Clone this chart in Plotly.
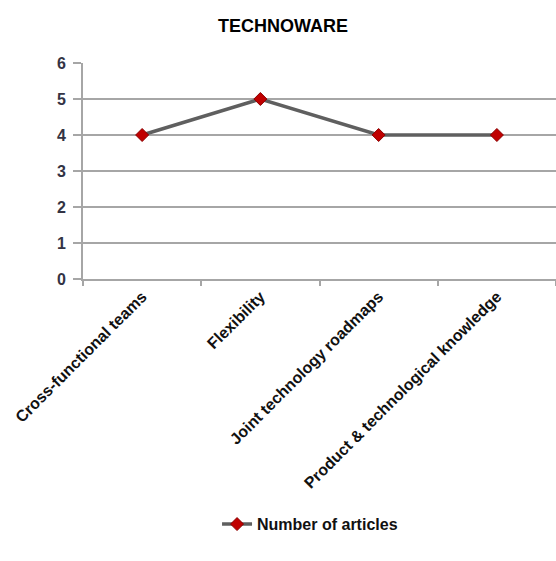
import plotly.graph_objects as go

categories = [
    "Cross-functional teams",
    "Flexibility",
    "Joint technology roadmaps",
    "Product & technological knowledge",
]
articles = [4, 5, 4, 4]
y_ticks = [0, 1, 2, 3, 4, 5, 6]

font_family = "Liberation Sans, Arial, sans-serif"
grid_color = "#a6a6a6"

fig = go.Figure()
fig.add_trace(go.Scatter(
    x=categories,
    y=articles,
    mode="lines+markers",
    name="Number of articles",
    line=dict(color="#5f5f5f", width=3.5),
    marker=dict(symbol="diamond", size=10, color="#c00000",
                line=dict(color="#8b0000", width=1)),
))

fig.update_layout(
    width=556,
    height=561,
    margin=dict(l=83, r=0, t=63, b=282),
    paper_bgcolor="white",
    plot_bgcolor="white",
    title=dict(
        text="TECHNOWARE",
        x=0.509, xanchor="center",
        y=0.954, yanchor="middle",
        font=dict(family=font_family, size=18, color="black", weight="bold"),
    ),
    font=dict(family=font_family, color="#111111"),
    showlegend=True,
    legend=dict(
        orientation="h",
        x=0.48, xanchor="center",
        y=-1.135, yanchor="middle",
        font=dict(family=font_family, size=16, color="#111111", weight="bold"),
    ),
    xaxis=dict(
        type="category",
        tickangle=-45,
        tickson="boundaries",
        ticks="outside",
        ticklen=5,
        tickwidth=2,
        tickcolor=grid_color,
        showline=True,
        linecolor=grid_color,
        linewidth=2,
        showgrid=False,
        range=[-0.5, 3.5],
        tickfont=dict(family=font_family, size=16, color="#111111", weight="bold"),
    ),
    yaxis=dict(
        range=[0, 6],
        tickvals=y_ticks,
        ticks="outside",
        ticklen=8,
        tickwidth=2,
        tickcolor=grid_color,
        ticklabelstandoff=4,
        showline=True,
        linecolor=grid_color,
        linewidth=2,
        showgrid=True,
        gridcolor=grid_color,
        gridwidth=2,
        zeroline=False,
        tickfont=dict(family=font_family, size=16, color="#333344", weight="bold"),
    ),
)

fig.write_html("out.html")
